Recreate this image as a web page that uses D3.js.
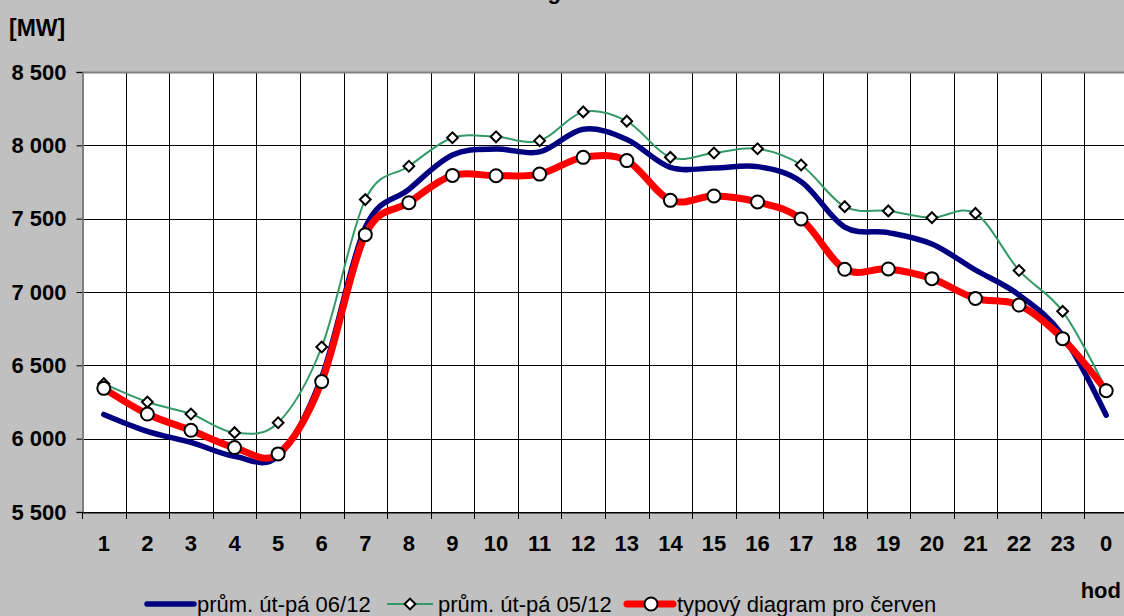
<!DOCTYPE html>
<html>
<head>
<meta charset="utf-8">
<script src="https://cdn.jsdelivr.net/npm/d3@7"></script>
<style>
  html, body { margin: 0; padding: 0; background: #c0c0c0; }
  svg { display: block; font-family: Arial, "Liberation Sans", sans-serif; }
</style>
</head>
<body>
<div id="chart"></div>
<script>
// hours of the day, 1..23 then 0
const hours = ["1", "2", "3", "4", "5", "6", "7", "8", "9", "10", "11", "12",
  "13", "14", "15", "16", "17", "18", "19", "20", "21", "22", "23", "0"];

// průměr út-pá 06/12
const avgJune = [6165, 6050, 5975, 5880, 5880, 6420, 7440, 7700, 7934, 7975, 7955, 8110,
  8040, 7850, 7845, 7855, 7752, 7443, 7405, 7327, 7150, 6980, 6705, 6160];

// průměr út-pá 05/12
const avgMay = [6375, 6250, 6168, 6041, 6109, 6625, 7630, 7857, 8052, 8058, 8031, 8228,
  8165, 7918, 7948, 7977, 7866, 7582, 7553, 7507, 7536, 7147, 6868, 6335];

// typový diagram pro červen
const typical = [6343, 6168, 6057, 5939, 5896, 6389, 7391, 7609, 7795, 7793, 7804, 7918,
  7896, 7625, 7655, 7614, 7498, 7155, 7157, 7091, 6956, 6911, 6682, 6327];

const yTicks = [5500, 6000, 6500, 7000, 7500, 8000, 8500];
const seriesNames = ["prům. út-pá 06/12", "prům. út-pá 05/12", "typový diagram pro červen"];

const W = 1124, H = 616;
const plot = { left: 82, right: 1128, top: 72, bottom: 512 };

const svg = d3.select("#chart")
  .append("svg")
  .attr("width", W)
  .attr("height", H);

svg.append("rect")
  .attr("width", W)
  .attr("height", H)
  .attr("fill", "#c0c0c0");

const x = d3.scaleBand()
  .domain(hours)
  .range([plot.left, plot.right]);

const y = d3.scaleLinear()
  .domain([5500, 8500])
  .range([plot.bottom, plot.top]);

const fmt = d3.formatLocale({ decimal: ",", thousands: " ", grouping: [3], currency: ["", ""] }).format(",");

// plot background
svg.append("rect")
  .attr("x", plot.left)
  .attr("y", plot.top)
  .attr("width", plot.right - plot.left)
  .attr("height", plot.bottom - plot.top)
  .attr("fill", "#fff");

// horizontal grid
svg.append("g")
  .selectAll("line")
  .data(yTicks)
  .join("line")
  .attr("x1", plot.left)
  .attr("x2", plot.right)
  .attr("y1", d => Math.round(y(d)) + 0.5)
  .attr("y2", d => Math.round(y(d)) + 0.5)
  .attr("stroke", "#000")
  .attr("stroke-width", 1);

// vertical grid at category boundaries
svg.append("g")
  .selectAll("line")
  .data(hours.slice(1))
  .join("line")
  .attr("x1", d => Math.round(x(d)) + 0.5)
  .attr("x2", d => Math.round(x(d)) + 0.5)
  .attr("y1", plot.top)
  .attr("y2", plot.bottom)
  .attr("stroke", "#000")
  .attr("stroke-width", 1);

// plot border top
svg.append("line")
  .attr("x1", plot.left).attr("x2", plot.right)
  .attr("y1", plot.top + 0.5).attr("y2", plot.top + 0.5)
  .attr("stroke", "#808080")
  .attr("stroke-width", 2);

// y axis
const yAxis = svg.append("g")
  .attr("transform", `translate(${plot.left + 0.5},0)`)
  .call(d3.axisLeft(y).tickValues(yTicks).tickFormat(fmt).tickSize(6).tickPadding(10));
yAxis.select(".domain").attr("stroke", "#808080").attr("stroke-width", 2);
yAxis.selectAll(".tick line").attr("stroke", "#000");
yAxis.selectAll(".tick text")
  .attr("fill", "#000")
  .style("font-size", "22px")
  .style("font-weight", "bold");

// x axis
const xAxis = svg.append("g")
  .attr("transform", `translate(0,${plot.bottom + 0.5})`)
  .call(d3.axisBottom(x).tickSize(0).tickPadding(23));
xAxis.select(".domain").attr("stroke", "#000");
xAxis.selectAll(".tick text")
  .attr("fill", "#000")
  .style("font-size", "22px")
  .style("font-weight", "bold");

// tick marks below the x axis at boundaries
svg.append("g")
  .selectAll("line")
  .data(hours)
  .join("line")
  .attr("x1", d => Math.round(x(d)) + 0.5)
  .attr("x2", d => Math.round(x(d)) + 0.5)
  .attr("y1", plot.bottom)
  .attr("y2", plot.bottom + 7)
  .attr("stroke", "#000");

// axis titles
svg.append("text")
  .attr("x", 9)
  .attr("y", 36)
  .style("font-size", "23px")
  .style("font-weight", "bold")
  .text("[MW]");

svg.append("text")
  .attr("x", 1121)
  .attr("y", 598)
  .attr("text-anchor", "end")
  .style("font-size", "22px")
  .style("font-weight", "bold")
  .text("hod");

// chart title, mostly above the picture (as in the original)
svg.append("text")
  .attr("x", 600)
  .attr("y", -1)
  .attr("text-anchor", "middle")
  .style("font-size", "22px")
  .style("font-weight", "bold")
  .text("Diagram zatížení");

// lines
const line = d3.line()
  .x((d, i) => x(hours[i]) + x.bandwidth() / 2)
  .y(d => y(d))
  .curve(d3.curveCatmullRom.alpha(0));

svg.append("path")
  .datum(avgJune)
  .attr("fill", "none")
  .attr("stroke", "#000080")
  .attr("stroke-width", 5.5)
  .attr("stroke-linecap", "round")
  .attr("d", line);

svg.append("path")
  .datum(avgMay)
  .attr("fill", "none")
  .attr("stroke", "#339966")
  .attr("stroke-width", 2)
  .attr("d", line);

const diamond = d3.symbol().type(d3.symbolSquare).size(58);

svg.append("g")
  .selectAll("path")
  .data(avgMay)
  .join("path")
  .attr("d", diamond)
  .attr("transform", (d, i) => `translate(${x(hours[i]) + x.bandwidth() / 2},${y(d)}) rotate(45)`)
  .attr("fill", "#fff")
  .attr("stroke", "#000")
  .attr("stroke-width", 2);

svg.append("path")
  .datum(typical)
  .attr("fill", "none")
  .attr("stroke", "#ff0000")
  .attr("stroke-width", 7)
  .attr("stroke-linecap", "round")
  .attr("d", line);

svg.append("g")
  .selectAll("circle")
  .data(typical)
  .join("circle")
  .attr("cx", (d, i) => x(hours[i]) + x.bandwidth() / 2)
  .attr("cy", d => y(d))
  .attr("r", 6.5)
  .attr("fill", "#fff")
  .attr("stroke", "#000")
  .attr("stroke-width", 2);

// legend
const legendY = 604;
const leg = svg.append("g").style("font-size", "22px");

leg.append("line")
  .attr("x1", 147).attr("x2", 194)
  .attr("y1", legendY).attr("y2", legendY)
  .attr("stroke", "#000080").attr("stroke-width", 5.5).attr("stroke-linecap", "round");
leg.append("text").attr("x", 197).attr("y", legendY + 8).text(seriesNames[0]);

leg.append("line")
  .attr("x1", 387).attr("x2", 433)
  .attr("y1", legendY).attr("y2", legendY)
  .attr("stroke", "#339966").attr("stroke-width", 2);
leg.append("path")
  .attr("d", diamond)
  .attr("transform", `translate(410,${legendY}) rotate(45)`)
  .attr("fill", "#fff").attr("stroke", "#000").attr("stroke-width", 2);
leg.append("text").attr("x", 438).attr("y", legendY + 8).text(seriesNames[1]);

leg.append("line")
  .attr("x1", 627).attr("x2", 673)
  .attr("y1", legendY).attr("y2", legendY)
  .attr("stroke", "#ff0000").attr("stroke-width", 7).attr("stroke-linecap", "round");
leg.append("circle")
  .attr("cx", 651).attr("cy", legendY).attr("r", 6.5)
  .attr("fill", "#fff").attr("stroke", "#000").attr("stroke-width", 2);
leg.append("text").attr("x", 677).attr("y", legendY + 8).text(seriesNames[2]);
</script>
</body>
</html>
